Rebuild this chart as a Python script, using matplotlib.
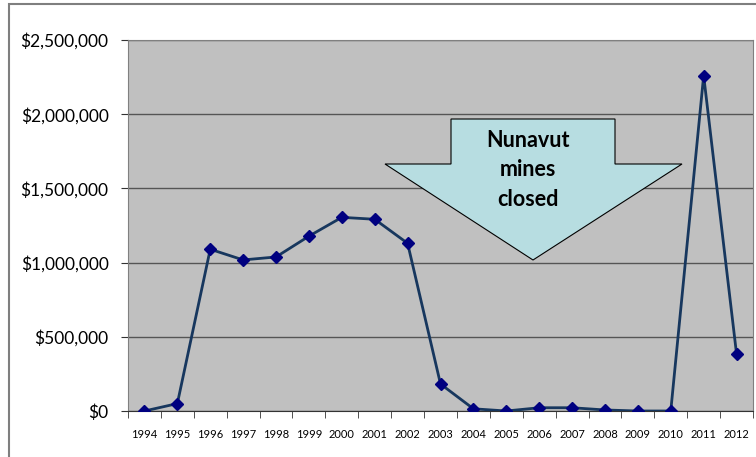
import matplotlib.pyplot as plt
from matplotlib.patches import Polygon, Rectangle
from matplotlib.ticker import FuncFormatter, FixedLocator

years = ['1994', '1995', '1996', '1997', '1998', '1999', '2000', '2001', '2002', '2003',
         '2004', '2005', '2006', '2007', '2008', '2009', '2010', '2011', '2012']
values = [0, 50000, 1090000, 1018000, 1038000, 1178000, 1305000, 1292000, 1130000, 182000,
          15000, 0, 22000, 22000, 7000, 0, 0, 2260000, 384000]

fig = plt.figure(figsize=(7.56, 4.57), dpi=100)
W, H = 756, 457
# axes placed in pixel terms
left, right, top, bottom = 128, 753, 40, 411
ax = fig.add_axes([left / W, 1 - bottom / H, (right - left) / W, (bottom - top) / H])

# outer chart border (no bottom edge visible)
fig.patches.append(Rectangle((8.5 / W, -0.05), 1, 1.05 - 4 / H, transform=fig.transFigure,
                             fill=False, edgecolor='#7f7f7f', linewidth=1.5))

ax.set_facecolor('#c0c0c0')
x = list(range(len(years)))
ax.plot(x, values, color='#17375e', linewidth=2, marker='D', markersize=6.5,
        markerfacecolor='#000080', markeredgecolor='#000080', zorder=3)

ax.set_xlim(-0.5, len(years) - 0.5)
ax.set_ylim(0, 2500000)
ax.set_yticks([0, 500000, 1000000, 1500000, 2000000, 2500000])
ax.yaxis.set_major_formatter(FuncFormatter(lambda v, p: '${:,.0f}'.format(v)))
ax.yaxis.grid(True, color='#555555', linewidth=1)
ax.set_axisbelow(True)

ax.set_xticks(x)
ax.set_xticklabels(years, fontsize=8, family='Lato')
ax.tick_params(axis='x', which='major', length=0, pad=13)
ax.xaxis.set_minor_locator(FixedLocator([i - 0.5 for i in range(len(years) + 1)]))
ax.tick_params(axis='x', which='minor', length=5, color='#333333', direction='out')
ax.tick_params(axis='y', length=5, color='#333333', labelsize=12.5, pad=9)
for lab in ax.get_yticklabels():
    lab.set_family('Lato')

for s in ['top', 'right', 'left']:
    ax.spines[s].set_color('#808080')
ax.spines['bottom'].set_color('#333333')

# arrow annotation, in pixel coords of the figure
def px(xp, yp):
    return (xp / W, 1 - yp / H)

arrow_pts = [px(451, 119), px(615, 119), px(615, 164), px(682, 164),
             px(533, 260), px(385, 164), px(451, 164)]
fig.patches.append(Polygon(arrow_pts, closed=True, transform=fig.transFigure,
                           facecolor='#b7dde1', edgecolor='black', linewidth=0.8, zorder=5))
fig.text(528 / W, 1 - 170 / H, 'Nunavut\nmines\nclosed', ha='center', va='center',
         fontsize=15.5, fontweight='bold', family='Lato', linespacing=1.5, zorder=6)

fig.savefig('out.png', dpi=100)
